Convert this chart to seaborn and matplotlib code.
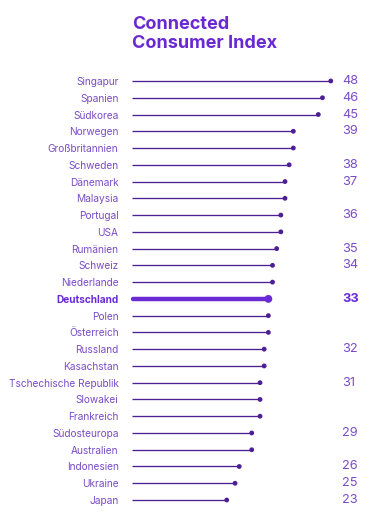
import matplotlib
matplotlib.use("Agg")
import matplotlib.pyplot as plt
import seaborn as sns
import pandas as pd

sns.set_style("white")
plt.rcParams["font.family"] = ["Inter", "DejaVu Sans"]

# data
countries = ["Singapur", "Spanien", "Südkorea", "Norwegen", "Großbritannien",
             "Schweden", "Dänemark", "Malaysia", "Portugal", "USA", "Rumänien",
             "Schweiz", "Niederlande", "Deutschland", "Polen", "Österreich",
             "Russland", "Kasachstan", "Tschechische Republik", "Slowakei",
             "Frankreich", "Südosteuropa", "Australien", "Indonesien",
             "Ukraine", "Japan"]
scores = [48, 46, 45, 39, 39, 38, 37, 37, 36, 36, 35, 34, 34, 33, 33, 33,
          32, 32, 31, 31, 31, 29, 29, 26, 25, 23]
highlight = "Deutschland"

df = pd.DataFrame({"country": countries, "score": scores})
df["pos"] = range(len(df))
df["hl"] = df["country"] == highlight

title_col = "#6a28d2"
label_col = "#7a4cc6"
line_col = "#4c1f95"
hl_col = "#6a2bd6"

fig = plt.figure(figsize=(3.89, 5.26), dpi=100)
ax = fig.add_axes([131 / 389, 17.6 / 526, 0.642, 435.8 / 526])

normal = df[~df["hl"]]
hl = df[df["hl"]]

ax.hlines(normal["pos"], 0.2, normal["score"], color=line_col, lw=0.95)
ax.hlines(hl["pos"], 0.4, hl["score"], color=hl_col, lw=3.2, capstyle="round")

sns.scatterplot(data=normal, x="score", y="pos", color=line_col, s=12,
                edgecolor="none", ax=ax, legend=False)
sns.scatterplot(data=hl, x="score", y="pos", color=hl_col, s=32,
                edgecolor="none", ax=ax, legend=False)

# value labels only at first of each group
prev = None
for _, r in df.iterrows():
    if r["score"] != prev:
        ax.text(50.7, r["pos"], str(r["score"]), ha="left", va="center",
                fontsize=9.2, color=label_col if not r["hl"] else hl_col,
                fontweight="bold" if r["hl"] else "normal")
    prev = r["score"]

ax.set_xlim(0, 60)
ax.set_ylim(len(df) - 0.5, -0.5)
ax.set_yticks(df["pos"])
ax.set_yticklabels(df["country"])
for t, h in zip(ax.get_yticklabels(), df["hl"]):
    t.set_color(label_col)
    t.set_fontsize(7.3)
    if h:
        t.set_fontweight("bold")
        t.set_color(hl_col)
ax.tick_params(axis="y", length=0, pad=9)
ax.set_xticks([])
ax.set_xlabel("")
ax.set_ylabel("")
sns.despine(ax=ax, left=True, bottom=True)

fig.text(132 / 389, 1 - 16 / 526, "Connected\nConsumer Index", ha="left",
         va="top", fontsize=13, fontweight="bold", color=title_col,
         linespacing=1.12)

fig.savefig("out.png", dpi=100)
